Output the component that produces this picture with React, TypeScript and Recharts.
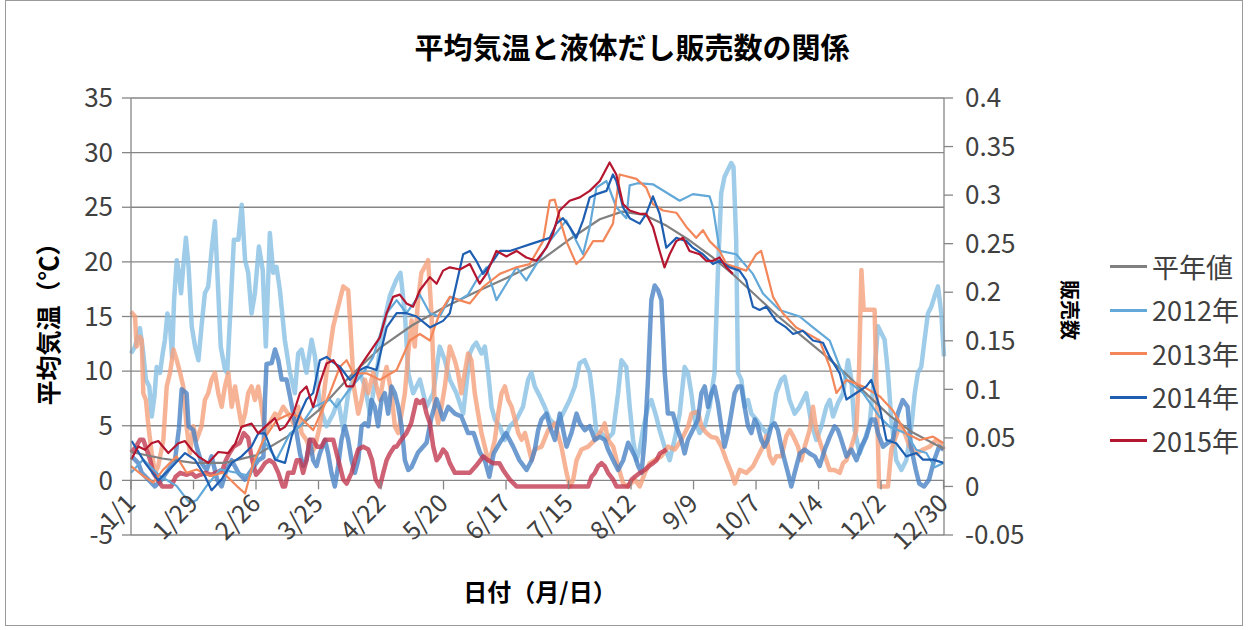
import React from 'react'
import { LineChart, Line, XAxis, YAxis, CartesianGrid, Legend } from 'recharts'

type Pt = [number, number]

// day-of-year ticks and their labels
const tickDays = [0, 28, 56, 84, 112, 140, 168, 196, 224, 252, 280, 308, 336, 364]
const tickLabels = ['1/1', '1/29', '2/26', '3/25', '4/22', '5/20', '6/17', '7/15', '8/12', '9/9', '10/7', '11/4', '12/2', '12/30']
const tempTicks = [-5, 0, 5, 10, 15, 20, 25, 30, 35]
const salesTicks = [-0.05, 0, 0.05, 0.1, 0.15, 0.2, 0.25, 0.3, 0.35, 0.4]

// average temperature (left axis), [day, ℃]
const tempNormal: Pt[] = [
  [0, 2.6], [14, 2.0], [28, 1.6], [42, 1.6], [56, 2.3], [70, 4.0], [84, 6.4], [98, 9.5], [112, 12.2],
  [126, 14.2], [140, 15.8], [154, 17.2], [168, 18.5], [182, 19.9], [196, 22.0], [210, 23.9], [220, 24.6],
  [230, 24.3], [240, 23.3], [250, 22.0], [260, 20.5], [270, 18.8], [280, 16.9], [290, 15.0], [300, 13.3],
  [310, 11.6], [320, 9.8], [330, 7.8], [340, 5.9], [350, 4.4], [364, 2.9],
]

const temp2012: Pt[] = [
  [0, 0.7], [5.5, 1.9], [13, 0.4], [20.4, -0.5], [26.4, -2.1], [29.4, -1.8], [33.9, -0.5], [39.9, 1.0],
  [47.3, 0.7], [53.3, 0.4], [59.3, 3.7], [65.2, 1.9], [71.2, 4.3], [76, 5.0], [81.6, 6.7], [89.1, 7.4],
  [92, 6.7], [96.6, 8.0], [104, 9.8], [108.5, 11.3], [114.5, 15.3], [119, 16.5], [123.4, 15.3],
  [129.4, 17.0], [133.9, 15.3], [138.3, 15.0], [143, 16.8], [147, 16.5], [151, 17.0], [154.7, 18.3],
  [159.2, 19.5], [163.7, 16.5], [168.2, 18.0], [172.7, 19.5], [177.1, 18.3], [181.6, 19.8], [187.6, 21.9],
  [195, 23.8], [199.5, 21.9], [202.5, 20.7], [205.5, 23.2], [208.5, 26.8], [213, 27.4], [217.4, 25.0],
  [221.9, 24.0], [223.4, 27.0], [227, 27.2], [233.8, 27.1], [245.8, 25.6], [251.7, 26.2], [259.2, 26.0],
  [260.7, 25.0], [263.7, 21.0], [271.1, 20.7], [278.6, 18.9], [283.1, 17.1], [290.5, 15.6], [299.5, 15.0],
  [305.5, 14.0], [313, 12.8], [317.5, 10.4], [320.5, 9.2], [327.9, 8.0], [335.4, 5.8], [339.9, 4.9],
  [347.3, 4.3], [351.8, 2.8], [356.3, 2.5], [360, 1.2], [364, 1.6],
]

const temp2013: Pt[] = [
  [0, 1.3], [5.5, 0.4], [10, -0.2], [14.5, 1.0], [20.4, 2.2], [24.9, 0.7], [29.4, 1.0], [35.4, 0.4],
  [41.3, 0.7], [47.3, -0.5], [51.1, -1.2], [54.8, 1.6], [59.3, 3.7], [65.2, 5.5], [71.2, 6.1], [75.7, 5.8],
  [81.6, 4.6], [89.1, 8.0], [93.6, 10.4], [96.6, 11.0], [99.5, 9.8], [105.5, 9.8], [111.5, 9.2],
  [119, 10.1], [124.9, 12.8], [129.4, 13.4], [133.9, 12.8], [138.3, 15.3], [142.8, 16.8], [147, 16.5],
  [151.8, 16.2], [157.7, 17.7], [165.2, 18.9], [172.7, 19.5], [178.6, 19.8], [184.6, 21.9], [187.6, 25.6],
  [189.8, 25.7], [192, 24.0], [195, 21.9], [199.5, 19.8], [202.5, 20.4], [207, 21.9], [211.5, 21.9],
  [215.9, 23.5], [218.9, 28.0], [226.4, 27.6], [230.8, 26.8], [233.8, 25.3], [238.3, 24.7], [244.3, 24.5],
  [248.8, 23.2], [253.2, 22.2], [256.2, 22.9], [259.2, 21.9], [263.7, 21.0], [266.7, 19.8], [271.1, 19.5],
  [275.6, 19.2], [280.1, 20.7], [282.3, 21.0], [284.6, 19.2], [287.6, 16.8], [292, 15.3], [298, 14.0],
  [302.5, 13.5], [308.5, 12.8], [313, 10.4], [316, 8.0], [320.5, 9.2], [327.9, 8.6], [335.4, 7.7],
  [341.3, 6.4], [347.3, 4.3], [353.3, 3.7], [359.3, 4.0], [364, 3.4],
]

const temp2014: Pt[] = [
  [0.3, 3.6], [6.3, 1.6], [12.2, 0.0], [18.2, 1.2], [24.2, 2.5], [28.6, 1.9], [33.1, 0.4], [36.1, -0.9],
  [40.6, 0.1], [45.1, 1.6], [49.5, 2.2], [54, 3.1], [57, 4.3], [60, 4.3], [64.5, 1.9], [69, 1.6],
  [71.9, 4.0], [75.7, 6.1], [78.6, 7.4], [81.6, 8.0], [84.6, 11.0], [87.6, 11.3], [90.6, 10.8],
  [93.6, 10.4], [98, 9.2], [102.5, 10.1], [105.5, 10.4], [110, 10.1], [114.5, 14.0], [119, 15.3],
  [123.4, 15.3], [127.9, 15.0], [133.9, 14.0], [139.8, 14.6], [142.8, 15.3], [145.8, 18.0], [148.8, 20.7],
  [151.8, 21.0], [154.7, 20.1], [157.7, 18.9], [162.2, 20.1], [165.2, 21.0], [169.7, 21.0], [174.1, 21.3],
  [178.6, 21.6], [183.1, 21.9], [187.6, 22.2], [190.6, 23.5], [193.5, 24.0], [196.5, 23.2], [199.5, 22.2],
  [202.5, 23.8], [205.5, 25.9], [208.5, 26.2], [213, 26.5], [215.9, 28.0], [217.4, 27.4], [220.4, 25.0],
  [223.4, 24.0], [227.9, 23.5], [230.8, 24.4], [233.8, 26.0], [236.8, 24.4], [239.8, 21.3], [244.3, 22.2],
  [248.8, 21.9], [251.7, 21.3], [256.2, 20.7], [260.7, 19.8], [263.7, 20.1], [268.2, 19.5], [272.6, 19.2],
  [275.6, 18.3], [278.6, 15.9], [281.6, 15.6], [284.6, 15.9], [289, 14.6], [293.5, 14.0], [296.6, 13.4],
  [301, 13.7], [305.5, 12.8], [310, 12.6], [313, 11.3], [317.5, 9.8], [320.5, 7.4], [324.9, 8.0],
  [329.4, 8.6], [331.6, 9.2], [335.4, 6.7], [338.4, 3.7], [342.8, 3.4], [347.3, 2.2], [351.8, 2.5],
  [354.8, 1.9], [359.3, 1.9], [364, 1.6],
]

const temp2015: Pt[] = [
  [0, 1.9], [3.3, 3.1], [6.3, 2.8], [9.2, 3.4], [12.2, 3.6], [16.7, 2.5], [21.2, 3.4], [24.2, 3.6],
  [27.2, 2.8], [30.1, 2.2], [34.6, 1.6], [39.1, 2.6], [43.6, 2.5], [46.6, 3.3], [49.5, 4.9], [54, 5.2],
  [57, 4.3], [60, 4.9], [64.5, 5.7], [66.7, 4.6], [69, 4.9], [72.7, 6.1], [75.7, 8.0], [78.6, 8.6],
  [81.6, 6.7], [84.6, 8.9], [87.6, 10.7], [90.6, 11.0], [93.6, 10.1], [96.6, 8.6], [99.5, 8.6],
  [102.5, 10.4], [105.5, 11.3], [108.5, 12.2], [111.5, 13.1], [114.5, 15.3], [117.4, 16.8], [120.4, 17.0],
  [123.4, 16.2], [126.4, 15.9], [129.4, 17.4], [133.9, 18.6], [136.9, 18.0], [139.8, 19.2], [142.8, 19.5],
  [147.3, 19.3], [151.8, 19.8], [156.2, 18.0], [159.2, 18.9], [163.7, 21.0], [168.2, 20.5], [172.7, 21.0],
  [177.1, 20.4], [181.6, 20.1], [186.1, 21.3], [189.1, 22.6], [192, 24.7], [196.5, 25.6], [201, 25.9],
  [205.5, 26.5], [210, 27.4], [214.4, 29.1], [217.4, 28.0], [220.4, 25.3], [223.4, 24.7], [227.9, 24.4],
  [230.8, 24.4], [233.8, 23.2], [236.8, 21.0], [239, 19.5], [241.3, 20.7], [244.3, 21.9], [247.3, 22.2],
  [250.2, 21.0], [254.7, 20.7], [257.7, 20.1], [260.7, 20.1], [263.7, 20.4], [266.7, 19.5], [269.6, 18.9],
]

// liquid dashi sales (right axis), [day, sales]
const sales2012: Pt[] = [
  [0, 0.137], [1.8, 0.144], [4, 0.163], [5.5, 0.137], [6.7, 0.110], [8.2, 0.103], [9.3, 0.072], [10.5, 0.093],
  [11.5, 0.123], [13, 0.117], [14.2, 0.137], [15.2, 0.151], [16.3, 0.178], [17.5, 0.165], [18.4, 0.133],
  [19.3, 0.192], [20.5, 0.233], [21.5, 0.220], [22.4, 0.199], [23.4, 0.226], [24.6, 0.256], [25.8, 0.226],
  [27.2, 0.165], [28.7, 0.144], [30.2, 0.130], [31.6, 0.165], [33.1, 0.199], [34.6, 0.206], [36.1, 0.243],
  [37.6, 0.273], [38.7, 0.220], [40.2, 0.144], [42.1, 0.120], [43.1, 0.117], [44.6, 0.185], [46.1, 0.254],
  [48.1, 0.254], [49.6, 0.290], [51.1, 0.233], [52.5, 0.220], [54, 0.178], [55.5, 0.199], [57.3, 0.247],
  [59, 0.223], [60.4, 0.144], [62.2, 0.261], [63.7, 0.220], [65.2, 0.226], [66.7, 0.202], [68.9, 0.151],
  [71.2, 0.117], [73.4, 0.096], [74.9, 0.137], [76.4, 0.141], [78.6, 0.117], [80.9, 0.151], [82.4, 0.134],
  [84.6, 0.082], [87.6, 0.062], [90.6, 0.075], [92.8, 0.089], [95.1, 0.058], [97.3, 0.096], [99.5, 0.110],
  [102.5, 0.117], [104.8, 0.103], [107, 0.075], [110, 0.117], [113, 0.165], [115.9, 0.196], [118.9, 0.213],
  [120.7, 0.220], [122.7, 0.178], [124.2, 0.117], [126.4, 0.096], [129.4, 0.110], [132.4, 0.082],
  [135.4, 0.096], [138.3, 0.144], [140.6, 0.130], [142.8, 0.110], [145.8, 0.096], [148.8, 0.075],
  [151.8, 0.137], [153.2, 0.144], [154.7, 0.148], [157, 0.137], [158.5, 0.144], [160, 0.117], [161.5, 0.082],
  [163, 0.069], [165.2, 0.062], [167.4, 0.048], [169.7, 0.062], [172.7, 0.069], [175.6, 0.082], [177.9, 0.110],
  [179.4, 0.117], [180.9, 0.103], [183.1, 0.093], [185.3, 0.082], [187.6, 0.069], [190.6, 0.062],
  [193.5, 0.075], [196.5, 0.089], [198.8, 0.103], [201, 0.127], [203.2, 0.130], [205.5, 0.117], [207, 0.089],
  [208.5, 0.055], [210.7, 0.055], [213, 0.048], [215.9, 0.055], [218.2, 0.096], [219.7, 0.130], [221.9, 0.123],
  [223.4, 0.082], [224.9, 0.048], [226.4, 0.027], [227.9, 0.038], [229.3, 0.058], [231.6, 0.082],
  [233.1, 0.089], [235.3, 0.072], [236.8, 0.058], [239, 0.041], [241.3, 0.027], [243.5, 0.048], [245.8, 0.075],
  [248, 0.123], [249.5, 0.117], [251, 0.096], [252.5, 0.069], [254.7, 0.055], [257, 0.062], [259.2, 0.082],
  [261.4, 0.117], [262.9, 0.220], [264.4, 0.302], [265.9, 0.319], [267.4, 0.326], [268.9, 0.333],
  [269.9, 0.329], [271.1, 0.254], [271.9, 0.117], [273.4, 0.110], [274.9, 0.082], [276.4, 0.089],
  [277.9, 0.075], [280.1, 0.069], [282.3, 0.062], [284.6, 0.055], [286.8, 0.062], [289, 0.096], [291.3, 0.110],
  [292.8, 0.113], [295, 0.089], [297.3, 0.075], [299.5, 0.082], [302.5, 0.096], [304.8, 0.065], [307, 0.048],
  [309.3, 0.062], [311.5, 0.082], [313, 0.089], [314.5, 0.072], [316.7, 0.086], [319, 0.096], [321.2, 0.130],
  [322.7, 0.110], [324.2, 0.058], [326.4, 0.034], [328.7, 0.048], [330.9, 0.065], [333.1, 0.117],
  [334.6, 0.165], [336.1, 0.158], [337.6, 0.151], [339.1, 0.117], [340.6, 0.069], [342.8, 0.027],
  [345.1, 0.017], [347.3, 0.027], [349.6, 0.062], [351.1, 0.096], [352.5, 0.117], [354, 0.123], [355.5, 0.151],
  [357, 0.178], [358.5, 0.185], [360, 0.196], [361.5, 0.206], [363, 0.178], [364.2, 0.134],
]

const sales2013: Pt[] = [
  [0, 0.180], [1.8, 0.175], [2.5, 0.144], [4, 0.154], [4.8, 0.151], [5.5, 0.096], [6.7, 0.089], [7.8, 0.062],
  [9.3, 0.034], [10.8, 0.014], [12.2, 0.021], [14.5, 0.048], [16, 0.103], [17.5, 0.117], [19, 0.141],
  [20.5, 0.130], [22, 0.117], [23.4, 0.103], [24.9, 0.062], [26.4, 0.034], [27.9, 0.062], [29.4, 0.048],
  [31.6, 0.062], [33.1, 0.089], [34.6, 0.096], [36.1, 0.110], [37.6, 0.117], [39.1, 0.096], [40.6, 0.082],
  [42.1, 0.103], [43.6, 0.117], [45.1, 0.082], [46.6, 0.103], [48.1, 0.082], [49.6, 0.062], [51.1, 0.075],
  [52.5, 0.096], [54, 0.103], [55.5, 0.089], [57, 0.103], [58.5, 0.082], [60, 0.055], [61.5, 0.062],
  [63, 0.069], [64.5, 0.075], [66, 0.072], [68.2, 0.082], [71.2, 0.072], [73.4, 0.062], [74.9, 0.082],
  [76.4, 0.055], [78.6, 0.048], [80.9, 0.034], [82.4, 0.041], [84.6, 0.062], [87.6, 0.117], [90.6, 0.165],
  [92.8, 0.185], [95.1, 0.206], [97.3, 0.202], [98.3, 0.165], [99.8, 0.103], [101.8, 0.075], [103.3, 0.089],
  [104.8, 0.110], [106.3, 0.096], [108.5, 0.117], [110, 0.103], [111.5, 0.089], [113, 0.110], [114.5, 0.123],
  [116.7, 0.096], [118.2, 0.062], [119.7, 0.055], [121.2, 0.075], [122.7, 0.096], [124.2, 0.137],
  [125.7, 0.171], [127.1, 0.144], [128.6, 0.192], [130.1, 0.220], [131.6, 0.226], [133.1, 0.233],
  [134.6, 0.178], [136.1, 0.082], [137.6, 0.065], [139.1, 0.082], [140.6, 0.103], [142.8, 0.144], [145, 0.130],
  [146.5, 0.117], [148, 0.096], [149.5, 0.117], [151, 0.137], [152.5, 0.130], [154, 0.096], [155.5, 0.075],
  [157, 0.055], [158.5, 0.041], [160, 0.027], [161.5, 0.034], [163, 0.048], [164.5, 0.075], [166, 0.096],
  [167.5, 0.103], [169, 0.089], [170.5, 0.082], [172, 0.069], [173.5, 0.055], [175, 0.048], [176.5, 0.055],
  [178, 0.041], [179.5, 0.027], [180.9, 0.038], [183.9, 0.041], [186.9, 0.058], [189.9, 0.065], [192.8, 0.041],
  [195.1, 0.014], [196.6, 0.0], [198.1, 0.007], [199.6, 0.027], [201.8, 0.038], [204.8, 0.041], [207.8, 0.048],
  [210.8, 0.058], [212.2, 0.065], [213.7, 0.048], [216, 0.041], [218.2, 0.021], [220.5, 0.003], [222.7, 0.0],
  [225.7, 0.007], [227.9, 0.0], [230.2, 0.014], [232.4, 0.024], [234.6, 0.027], [237.6, 0.031], [240.6, 0.041],
  [243.6, 0.038], [246.6, 0.048], [249.6, 0.062], [251.1, 0.075], [254, 0.077], [255.5, 0.062], [257.8, 0.055],
  [260, 0.051], [262.3, 0.050], [264.5, 0.041], [266.7, 0.027], [269, 0.014], [270.5, 0.003], [272.7, 0.017],
  [275.7, 0.014], [278.7, 0.021], [280.9, 0.031], [283.1, 0.041], [284.6, 0.052], [286.1, 0.031],
  [287.6, 0.024], [289.1, 0.031], [291.4, 0.031], [293.6, 0.052], [295.1, 0.058], [296.6, 0.052],
  [298.8, 0.041], [300.3, 0.027], [301.8, 0.041], [304, 0.058], [305.5, 0.082], [307, 0.058], [309.3, 0.041],
  [311.5, 0.027], [313, 0.017], [315.2, 0.017], [317.5, 0.014], [319, 0.024], [320.5, 0.027], [322.7, 0.041],
  [324.9, 0.058], [326.1, 0.117], [327.2, 0.223], [328.2, 0.182], [333.1, 0.182], [334.2, 0.082], [335.1, 0.0],
  [339.1, 0.0], [340.6, 0.038], [342.1, 0.048], [344.3, 0.062], [346.6, 0.055], [348.8, 0.041], [351.8, 0.034],
  [354.8, 0.038], [357.8, 0.041], [360.7, 0.048], [362.2, 0.045], [364.2, 0.038],
]

const sales2014: Pt[] = [
  [0.3, 0.031], [3.3, 0.024], [4.8, 0.014], [7.8, 0.007], [10.7, 0.0], [13.7, 0.007], [16.7, 0.017],
  [19.7, 0.027], [21.5, 0.060], [22.7, 0.100], [24.9, 0.096], [25.8, 0.062], [27.9, 0.058], [29.4, 0.041],
  [31.6, 0.024], [33.9, 0.017], [36.1, 0.031], [38.6, 0.007], [40.6, 0.0], [42.8, 0.017], [45.1, 0.027],
  [48.1, 0.014], [51, 0.007], [54, 0.017], [57, 0.027], [59.3, 0.030], [60, 0.089], [60.7, 0.126], [63, 0.127],
  [64.5, 0.141], [66, 0.130], [67.5, 0.110], [69.7, 0.110], [71.2, 0.093], [72.7, 0.075], [74.2, 0.055],
  [75.7, 0.034], [77.1, 0.021], [78.6, 0.027], [80.1, 0.048], [81.6, 0.027], [83.1, 0.021], [84.6, 0.034],
  [86.9, 0.048], [88.3, 0.034], [89.8, 0.014], [91.3, 0.0], [92.8, 0.021], [94.3, 0.048], [95.8, 0.062],
  [97.3, 0.048], [98.8, 0.027], [100.3, 0.014], [101.8, 0.027], [103.3, 0.062], [104.8, 0.065],
  [106.3, 0.062], [107.7, 0.089], [109.2, 0.082], [110.7, 0.062], [112.2, 0.089], [113.7, 0.096],
  [115.2, 0.075], [116.7, 0.103], [118.2, 0.096], [119.7, 0.082], [121.2, 0.062], [122.7, 0.027],
  [124.2, 0.017], [125.7, 0.020], [128.6, 0.035], [132.4, 0.045], [134.5, 0.070], [136.9, 0.090],
  [139.8, 0.069], [142.1, 0.082], [145.1, 0.075], [148, 0.072], [151, 0.055], [153.5, 0.055], [156.3, 0.035],
  [158.5, 0.027], [160.5, 0.010], [162.5, 0.034], [165.2, 0.045], [168, 0.055], [171.2, 0.041], [174, 0.027],
  [177.2, 0.017], [179.5, 0.027], [180.9, 0.038], [182.4, 0.058], [183.9, 0.069], [186.1, 0.075],
  [187.6, 0.062], [189.9, 0.048], [192.1, 0.075], [193.6, 0.058], [195.1, 0.041], [197.3, 0.055],
  [199.6, 0.075], [201.1, 0.065], [203.3, 0.058], [205.5, 0.062], [207.8, 0.048], [210, 0.051], [212.2, 0.048],
  [213.7, 0.038], [216, 0.027], [218.2, 0.017], [220.5, 0.027], [222.7, 0.045], [224.2, 0.038], [225.7, 0.031],
  [227.2, 0.021], [228.7, 0.014], [230.1, 0.048], [231.6, 0.110], [233.1, 0.192], [234.6, 0.207],
  [236.1, 0.202], [237.6, 0.192], [239.1, 0.117], [240.5, 0.075], [242.8, 0.075], [244.3, 0.062],
  [246.5, 0.048], [248, 0.034], [249.5, 0.048], [251, 0.055], [252.5, 0.062], [254, 0.069], [255.5, 0.096],
  [257, 0.103], [258.5, 0.082], [260, 0.096], [261.4, 0.103], [262.9, 0.086], [264.4, 0.062], [265.9, 0.041],
  [267.4, 0.055], [268.9, 0.075], [270.4, 0.096], [271.9, 0.103], [273.4, 0.103], [274.9, 0.082],
  [276.4, 0.062], [277.9, 0.055], [279.4, 0.069], [280.8, 0.062], [282.3, 0.048], [283.8, 0.041],
  [285.3, 0.048], [286.8, 0.062], [288.3, 0.065], [289.8, 0.058], [291.3, 0.041], [292.8, 0.027],
  [294.3, 0.014], [295.8, 0.0], [297.3, 0.014], [299.6, 0.034], [301.8, 0.038], [304, 0.034], [306.3, 0.031],
  [308.5, 0.021], [310.8, 0.038], [313, 0.051], [315.2, 0.062], [316.7, 0.058], [318.2, 0.048], [320.5, 0.031],
  [322.7, 0.038], [325, 0.027], [327.2, 0.041], [329.4, 0.051], [331.7, 0.069], [333.2, 0.069], [334.6, 0.055],
  [336.9, 0.041], [339.1, 0.045], [341.3, 0.048], [343.5, 0.075], [345.7, 0.089], [347.9, 0.082],
  [349.4, 0.041], [351.6, 0.017], [353.1, 0.003], [355.3, 0.0], [357.5, 0.007], [359.8, 0.027], [362, 0.041],
  [364, 0.038],
]

const sales2015: Pt[] = [
  [0, 0.035], [2, 0.040], [4, 0.048], [5.5, 0.048], [7, 0.038], [8.5, 0.028], [10, 0.014], [12, 0.007],
  [14, 0.0], [18, 0.0], [20, 0.010], [22, 0.014], [25, 0.012], [27, 0.014], [29, 0.010], [31, 0.012],
  [33.5, 0.014], [36, 0.012], [38, 0.014], [41, 0.017], [42.5, 0.027], [44, 0.034], [46, 0.041], [48.8, 0.045],
  [50.5, 0.055], [52.5, 0.050], [54, 0.030], [56, 0.012], [58, 0.017], [60, 0.024], [62, 0.027], [64, 0.024],
  [66, 0.014], [68, 0.0], [69, 0.0], [70.4, 0.014], [72.7, 0.014], [74.2, 0.027], [75.7, 0.027], [77.1, 0.014],
  [78.6, 0.027], [80.1, 0.048], [81.6, 0.048], [83.3, 0.041], [85.3, 0.041], [86.9, 0.048], [89.1, 0.048],
  [90.6, 0.048], [92.1, 0.034], [93.6, 0.021], [95.1, 0.007], [96.6, 0.003], [98.8, 0.014], [100.3, 0.027],
  [101.8, 0.038], [104, 0.041], [106.3, 0.038], [108, 0.027], [109.6, 0.007], [111.5, 0.0], [113, 0.014],
  [114.5, 0.027], [116, 0.034], [118, 0.041], [119, 0.041], [121, 0.048], [123.4, 0.055], [125.5, 0.065],
  [127.9, 0.089], [129.4, 0.086], [130.9, 0.089], [132.4, 0.075], [133.9, 0.065], [135.4, 0.041],
  [136.9, 0.027], [138.3, 0.031], [139.8, 0.038], [141.3, 0.034], [142.8, 0.024], [145.1, 0.014],
  [148, 0.014], [151.8, 0.014], [154.5, 0.021], [157.8, 0.031], [160, 0.027], [162.2, 0.024], [165, 0.024],
  [166.7, 0.017], [169.7, 0.007], [172.7, 0.0], [204.8, 0.0], [206.3, 0.010], [207.8, 0.014], [209.3, 0.021],
  [210.8, 0.024], [212.2, 0.021], [213.7, 0.014], [216, 0.007], [217.5, 0.0], [222.7, 0.0], [224.2, 0.007],
  [225.7, 0.010], [228, 0.014], [230.2, 0.017], [232, 0.021], [233.9, 0.024], [235.4, 0.027], [236.9, 0.034],
  [238.4, 0.036], [239.9, 0.038],
]

const seriesNames = ['平年値', '2012年', '2013年', '2014年', '2015年']
const tempSeries = [tempNormal, temp2012, temp2013, temp2014, temp2015]
const tempColors = ['#808080', '#62a8d8', '#f3875a', '#1f5fb2', '#b5162f']
const salesSeries = [sales2012, sales2013, sales2014, sales2015]
const salesColors = ['#86bfe4', '#f5a07c', '#4a82c4', '#c23a50']

const toPoints = (arr: Pt[]) => arr.map(([d, v]) => ({ d, v }))

const W = 1248
const H = 630
const M = { top: 98, right: 184, bottom: 35, left: 0 }
const X_H = 60
const FONT = "'Noto Sans CJK JP', 'Noto Sans', sans-serif"
const AXIS = '#868686'
const TEXT = '#404040'

const plotH = H - M.top - M.bottom - X_H
const zeroOffset = (plotH * 5) / 40 // distance from bottom (-5) to the 0 line

function DateTick(props: any) {
  const { x, y, payload } = props
  const idx = tickDays.indexOf(payload.value)
  const y0 = y - zeroOffset
  const ax = x + 6
  const ay = y - 30
  return (
    <g>
      <line x1={x} x2={x} y1={y0} y2={y0 + 9} stroke={AXIS} strokeWidth={1.3} />
      <text
        x={ax}
        y={ay}
        textAnchor="end"
        fontSize={25}
        fill={TEXT}
        fontFamily={FONT}
        transform={`rotate(-45 ${ax} ${ay})`}
      >
        {tickLabels[idx]}
      </text>
    </g>
  )
}

function LegendBox() {
  return (
    <div style={{ fontFamily: FONT }}>
      {seriesNames.map((n, i) => (
        <div key={n} style={{ display: 'flex', alignItems: 'center', height: 43.5 }}>
          <div style={{ width: 37, height: 3, background: tempColors[i], marginRight: 5 }} />
          <span style={{ fontSize: 27, color: TEXT, lineHeight: '30px' }}>{n}</span>
        </div>
      ))}
    </div>
  )
}

export default function App() {
  return (
    <div style={{ position: 'relative', width: W, height: H, background: '#fff', overflow: 'hidden' }}>
      <style>{'body{margin:0}'}</style>
      <div
        style={{
          position: 'absolute', left: 5, top: 0, width: W - 10, height: H - 4,
          border: '1px solid #9a9a9a', boxSizing: 'border-box',
        }}
      />
      <LineChart width={W} height={H} margin={M}>
        <CartesianGrid vertical={false} stroke={AXIS} strokeWidth={1.3} />
        <XAxis
          dataKey="d"
          type="number"
          domain={[0, 364]}
          ticks={tickDays}
          interval={0}
          axisLine={false}
          tickLine={false}
          tickSize={0}
          tickMargin={0}
          height={X_H}
          tick={<DateTick />}
          allowDuplicatedCategory={false}
        />
        <YAxis
          type="number"
          domain={[-5, 35]}
          ticks={tempTicks}
          interval={0}
          width={131}
          tickSize={9}
          tickMargin={9}
          axisLine={{ stroke: AXIS, strokeWidth: 1.3 }}
          tickLine={{ stroke: AXIS, strokeWidth: 1.3 }}
          tick={{ fontSize: 26, fill: TEXT, fontFamily: FONT }}
        />
        <YAxis
          yAxisId="s"
          orientation="right"
          type="number"
          domain={[-0.05, 0.4]}
          ticks={salesTicks}
          interval={0}
          width={120}
          tickSize={9}
          tickMargin={12}
          axisLine={{ stroke: AXIS, strokeWidth: 1.3 }}
          tickLine={{ stroke: AXIS, strokeWidth: 1.3 }}
          tickFormatter={(v: number) => String(Math.round(v * 100) / 100)}
          tick={{ fontSize: 26, fill: TEXT, fontFamily: FONT, textAnchor: 'start' }}
        />
        <Legend
          layout="vertical"
          align="center"
          verticalAlign="middle"
          wrapperStyle={{ left: 1110, top: 245, width: 138 }}
          content={() => <LegendBox />}
        />
        {salesSeries.map((s, i) => (
          <Line
            key={'s' + i}
            yAxisId="s"
            data={toPoints(s)}
            dataKey="v"
            type="linear"
            stroke={salesColors[i]}
            strokeWidth={4.5}
            strokeOpacity={0.8}
            strokeLinejoin="round"
            dot={false}
            activeDot={false}
            legendType="none"
            isAnimationActive={false}
          />
        ))}
        {tempSeries.map((s, i) => (
          <Line
            key={'t' + i}
            data={toPoints(s)}
            dataKey="v"
            name={seriesNames[i]}
            type="linear"
            stroke={tempColors[i]}
            strokeWidth={2.2}
            strokeLinejoin="round"
            dot={false}
            activeDot={false}
            isAnimationActive={false}
          />
        ))}
      </LineChart>
      <div
        style={{
          position: 'absolute', left: 0, width: 1264, top: 29, textAlign: 'center',
          fontFamily: FONT, fontWeight: 700, fontSize: 29, color: '#000', lineHeight: '34px',
        }}
      >
        平均気温と液体だし販売数の関係
      </div>
      <div
        style={{
          position: 'absolute', left: 47, top: 318, transform: 'translate(-50%, -50%) rotate(-90deg)',
          whiteSpace: 'nowrap', fontFamily: FONT, fontWeight: 700, fontSize: 25, color: '#000',
        }}
      >
        平均気温（℃）
      </div>
      <div
        style={{
          position: 'absolute', left: 1070, top: 310, transform: 'translate(-50%, -50%) rotate(90deg)',
          whiteSpace: 'nowrap', fontFamily: FONT, fontWeight: 700, fontSize: 20, color: '#000',
        }}
      >
        販売数
      </div>
      <div
        style={{
          position: 'absolute', left: 540, top: 590, transform: 'translate(-50%, -50%)',
          whiteSpace: 'nowrap', fontFamily: FONT, fontWeight: 700, fontSize: 24, color: '#000',
        }}
      >
        日付（月/日）
      </div>
    </div>
  )
}
